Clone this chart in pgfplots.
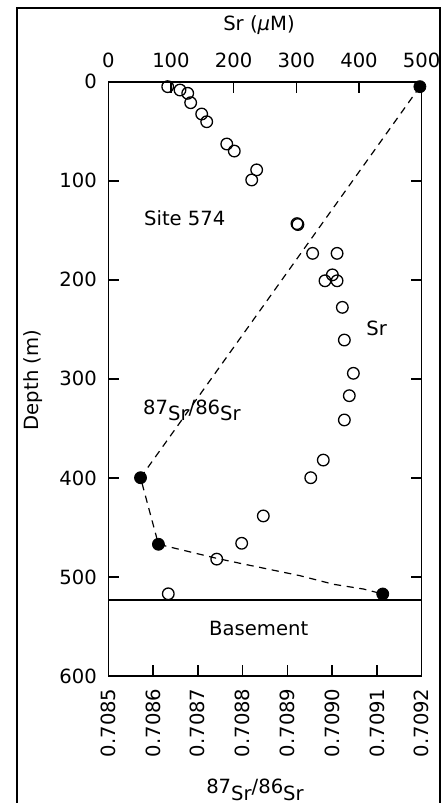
\documentclass[border=0pt]{standalone}
\usepackage{fontspec}
\setmainfont{DejaVu Sans}
\usepackage{pgfplots}
\pgfplotsset{compat=1.18}

% Sr concentration (uM) vs depth (m)
\pgfplotstableread{
sr     depth
94.8   5.0
114.4  8.4
126.7  11.7
131.4  21.2
149.0  32.6
157.0  40.4
189.0  62.9
201.0  70.0
236.7  89.0
228.8  99.2
301.0  143.3
302.5  144.2
326.0  173.3
365.0  173.3
357.5  195.0
345.7  201.0
365.0  201.0
373.4  227.8
376.6  260.8
391.0  294.4
384.5  317.0
376.6  341.5
343.0  382.0
323.0  399.8
247.3  438.4
212.8  466.0
173.0  482.0
95.7   517.0
}\srdata

\newcommand{\srratio}{87\raisebox{-0.6ex}{Sr}/86\raisebox{-0.6ex}{Sr}}
\newcommand{\labfont}{\fontsize{9.8}{11.8}\selectfont}

\begin{document}
\labfont
\begin{tikzpicture}[font=\labfont]
\path[use as bounding box] (0pt,0pt) rectangle (222pt,401.5pt);
\draw[line width=1pt] (8.5pt,-3pt) -- (8.5pt,397.5pt) -- (220pt,397.5pt) -- (220pt,-3pt);

\pgfplotsset{
  every axis/.append style={
    at={(54.15pt,63.5pt)}, anchor=south west,
    scale only axis, width=156.7pt, height=297.15pt,
    ymin=0, ymax=600, y dir=reverse,
    tick align=inside, major tick length=5.5pt,
    axis line style={line width=0.8pt}, tick style={line width=0.8pt, black},
    tick label style={font=\labfont},
    /pgf/number format/assume math mode=true,
    clip=false,
  },
}

% 87Sr/86Sr axis (bottom, left, right)
\begin{axis}[
  xmin=0.7085, xmax=0.7092,
  xtick={0.7085,0.7086,0.7087,0.7088,0.7089,0.7090,0.7091,0.7092},
  xticklabels={0.7085,0.7086,0.7087,0.7088,0.7089,0.7090,0.7091,0.7092},
  xtick pos=left,
  xticklabel style={yshift=-2.8pt, rotate=90, anchor=east},
  ytick={0,100,...,600},
  ytick pos=both, yticklabel pos=left,
  yticklabel style={xshift=-2.3pt},
]
\addplot[black, line width=0.6pt, forget plot] coordinates {(0.7085,523.3) (0.7092,523.3)};
\addplot[black, line width=0.6pt, dash pattern=on 3.6pt off 2.8pt] coordinates {
  (0.709196,5) (0.708572,399.8) (0.708612,467.0) (0.708742,481.2)
  (0.708794,486.2) (0.708928,498.7) (0.709003,507.4) (0.709070,512.2)
  (0.709113,517.2)};
\addplot[only marks, mark=*, mark size=3pt, black] coordinates {
  (0.709196,5) (0.708572,399.8) (0.708612,467.0) (0.709113,517.2)};
\end{axis}

% Sr axis (top)
\begin{axis}[
  xmin=0, xmax=500,
  axis x line*=top, axis y line=none,
  xtick={0,100,...,500},
  xticklabel style={yshift=3.5pt},
]
\addplot[only marks, mark=o, mark size=2.9pt, mark options={line width=0.65pt}, black]
  table[x=sr, y=depth] {\srdata};
\node at (axis cs:122,138) {Site 574};
\node at (axis cs:428,249) {Sr};
\node at (axis cs:133.5,332) {\srratio};
\node at (axis cs:240,552) {Basement};
\end{axis}

\node at (129.5pt,389pt) {Sr (\textit{µ}M)};
\node[rotate=90] at (16.5pt,211.5pt) {Depth (m)};
\node at (127.5pt,6.5pt) {\srratio};
\end{tikzpicture}
\end{document}
